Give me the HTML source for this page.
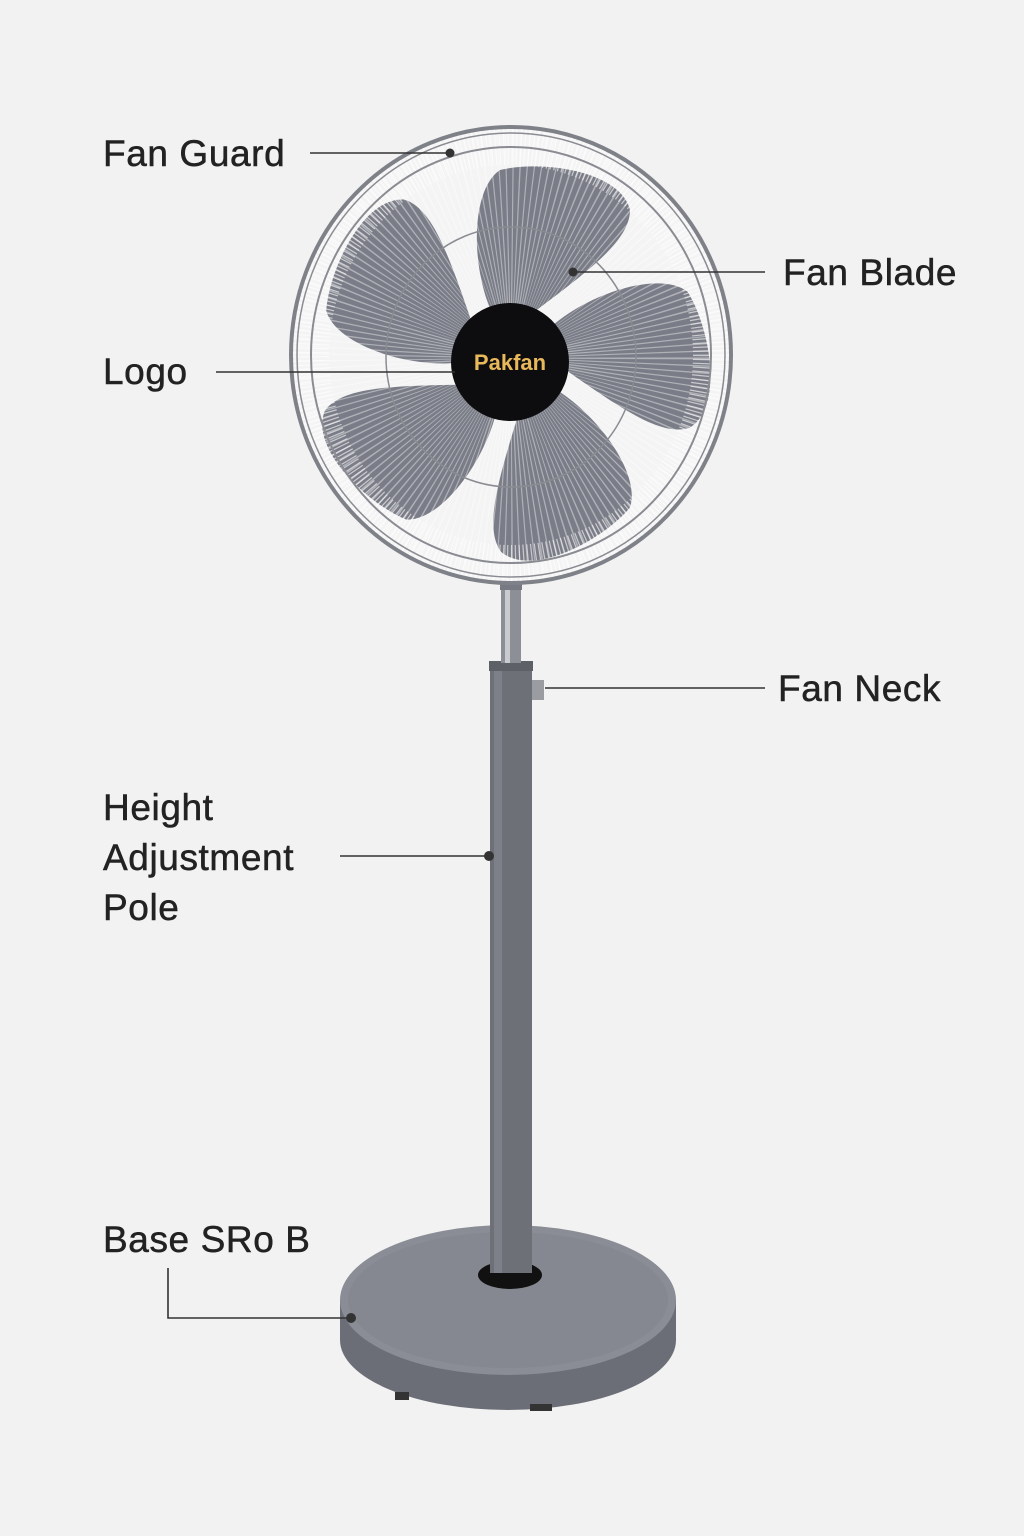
<!DOCTYPE html>
<html><head><meta charset="utf-8"><style>
html,body{margin:0;padding:0;background:#f2f2f2}
svg{display:block}
text{font-family:"Liberation Sans",sans-serif;fill:#222;font-size:37px;letter-spacing:0.6px;stroke:#222;stroke-width:0.5px}
</style></head><body>
<svg width="1024" height="1536" viewBox="0 0 1024 1536">
<defs><clipPath id="cp"><ellipse cx="511" cy="355" rx="218" ry="226"/></clipPath></defs>
<rect width="1024" height="1536" fill="#f2f2f2"/>
<!-- base -->
<ellipse cx="508" cy="1340" rx="168" ry="70" fill="#6b6e76"/>
<rect x="340" y="1300" width="336" height="40" fill="#6b6e76"/>
<ellipse cx="508" cy="1300" rx="168" ry="75" fill="#8a8d95"/>
<ellipse cx="508" cy="1300" rx="160" ry="68" fill="#858890"/>
<rect x="395" y="1392" width="14" height="8" fill="#333"/>
<rect x="530" y="1404" width="22" height="7" fill="#333"/>
<ellipse cx="510" cy="1275" rx="32" ry="14" fill="#111"/>
<!-- pole -->
<rect x="490" y="668" width="42" height="605" fill="#6e7078"/>
<rect x="494" y="668" width="8" height="605" fill="#7d8088"/>
<rect x="489" y="661" width="44" height="10" fill="#5e6068"/>
<rect x="501" y="585" width="20" height="78" fill="#8c8f96"/>
<rect x="505" y="585" width="5" height="78" fill="#c9cbd0"/>
<rect x="532" y="680" width="12" height="20" fill="#9a9ca2"/>
<rect x="500" y="540" width="22" height="50" fill="#777a82"/>
<!-- fan head -->
<ellipse cx="511" cy="355" rx="220" ry="228" fill="#f4f4f5" stroke="#7f8188" stroke-width="4"/>
<g fill="#7a7d87">
<g transform="translate(510,360)">
<path id="bl" d="M-15,-40 C-40,-90 -40,-170 -10,-190 C30,-200 110,-190 120,-150 C120,-120 80,-90 20,-45 Z"/>
<use href="#bl" transform="rotate(72)"/>
<use href="#bl" transform="rotate(144)"/>
<use href="#bl" transform="rotate(216)"/>
<use href="#bl" transform="rotate(288)"/>
</g></g>
<g clip-path="url(#cp)">
<circle cx="511" cy="358" r="140" fill="none" stroke="#ffffff" stroke-opacity="0.4" stroke-width="260" stroke-dasharray="1.2 4"/>
<ellipse cx="511" cy="355" rx="200" ry="208" fill="none" stroke="#fff" stroke-opacity="0.6" stroke-width="36" stroke-dasharray="1.2 3"/>
</g>
<ellipse cx="511" cy="355" rx="200" ry="208" fill="none" stroke="#8a8c92" stroke-width="2"/>
<ellipse cx="511" cy="357" rx="125" ry="130" fill="none" stroke="#8a8c92" stroke-width="1.5"/>
<ellipse cx="511" cy="355" rx="214" ry="222" fill="none" stroke="#8a8c92" stroke-width="1.5"/>
<circle cx="510" cy="362" r="59" fill="#0d0d0f"/>
<text x="510" y="370" text-anchor="middle" style="font-size:22px;font-weight:bold;fill:#e8b85a;stroke:none;letter-spacing:0">Pakfan</text>
<!-- callouts -->
<g stroke="#333" stroke-width="1.6" fill="none">
<line x1="310" y1="153" x2="450" y2="153"/>
<line x1="573" y1="272" x2="765" y2="272"/>
<line x1="216" y1="372" x2="455" y2="372"/>
<line x1="545" y1="688" x2="765" y2="688"/>
<line x1="340" y1="856" x2="488" y2="856"/>
<polyline points="168,1268 168,1318 350,1318"/>
</g>
<g fill="#333">
<circle cx="450" cy="153" r="4.5"/><circle cx="573" cy="272" r="4.5"/>
<circle cx="489" cy="856" r="5"/><circle cx="351" cy="1318" r="5"/>
</g>
<text x="103" y="166">Fan Guard</text>
<text x="783" y="285">Fan Blade</text>
<text x="103" y="384">Logo</text>
<text x="778" y="701">Fan Neck</text>
<text x="103" y="820">Height</text>
<text x="103" y="870">Adjustment</text>
<text x="103" y="920">Pole</text>
<text x="103" y="1252">Base SRo B</text>
</svg>
</body></html>
